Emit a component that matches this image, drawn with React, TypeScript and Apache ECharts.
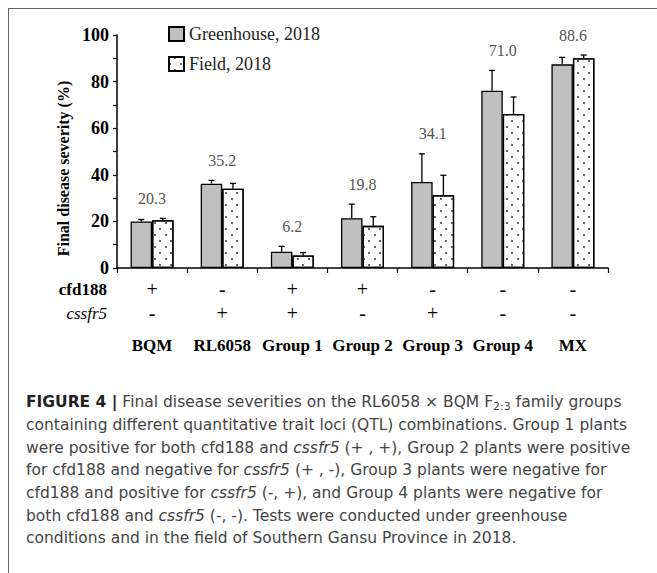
import React, { useEffect, useRef } from 'react';
import * as echarts from 'echarts';

const categories = ['BQM', 'RL6058', 'Group 1', 'Group 2', 'Group 3', 'Group 4', 'MX'];
const cfd188 = ['+', '-', '+', '+', '-', '-', '-'];
const cssfr5 = ['-', '+', '+', '-', '+', '-', '-'];
const greenhouse = [20.0, 36.2, 7.0, 21.4, 36.9, 76.1, 87.4];
const field = [20.5, 34.0, 5.4, 18.1, 31.2, 66.1, 90.0];
const greenhouseSE = [0.8, 1.4, 2.3, 6.0, 12.1, 8.7, 3.0];
const fieldSE = [0.8, 2.3, 1.2, 3.9, 8.6, 7.3, 1.4];
const meanLabels = ['20.3', '35.2', '6.2', '19.8', '34.1', '71.0', '88.6'];
const seriesNames = ['Greenhouse, 2018', 'Field, 2018'];

const SERIF = "'Liberation Serif', serif";
const SANS = "'DejaVu Sans', sans-serif";
const BAR_W = 21.5;

const caption =
  '{b|FIGURE 4 |}{t| Final disease severities on the RL6058 \u00d7 BQM F}{s|2:3}{t| family groups}\n' +
  '{t|containing different quantitative trait loci (QTL) combinations. Group 1 plants}\n' +
  '{t|were positive for both cfd188 and }{i|cssfr5}{t| (+ , +), Group 2 plants were positive}\n' +
  '{t|for cfd188 and negative for }{i|cssfr5}{t| (+ , -), Group 3 plants were negative for}\n' +
  '{t|cfd188 and positive for }{i|cssfr5}{t| (-, +), and Group 4 plants were negative for}\n' +
  '{t|both cfd188 and }{i|cssfr5}{t| (-, -). Tests were conducted under greenhouse}\n' +
  '{t|conditions and in the field of Southern Gansu Province in 2018.}';

function errSeries(vals: number[], se: number[], side: number) {
  return {
    type: 'custom',
    silent: true,
    z: 5,
    data: vals.map((v, i) => [i, v, v + se[i]]),
    encode: { x: 0, y: [1, 2] },
    renderItem: (params: any, api: any) => {
      const i = api.value(0);
      const base = api.coord([i, api.value(1)]);
      const top = api.coord([i, api.value(2)]);
      const x = base[0] + (side * BAR_W) / 2;
      return {
        type: 'group',
        children: [
          { type: 'line', shape: { x1: x, y1: base[1], x2: x, y2: top[1] }, style: { stroke: '#000', lineWidth: 1.3 } },
          { type: 'line', shape: { x1: x - 3, y1: top[1], x2: x + 3, y2: top[1] }, style: { stroke: '#000', lineWidth: 1.3 } },
        ],
      };
    },
  };
}

export default function App() {
  const ref = useRef<HTMLDivElement>(null);
  useEffect(() => {
    if (!ref.current) return;
    const chart = echarts.init(ref.current, null, { renderer: 'svg' });
    const maxTop = categories.map((_, i) =>
      Math.max(greenhouse[i] + greenhouseSE[i], field[i] + fieldSE[i])
    );
    const option: any = {
      animation: false,
      backgroundColor: '#fff',
      title: [
        {
          text: 'cfd188',
          left: 107,
          top: 280,
          padding: 0,
          textAlign: 'right',
          textStyle: { fontFamily: SERIF, fontSize: 17, fontWeight: 'bold', color: '#000', lineHeight: 18 },
        },
        {
          text: 'cssfr5',
          left: 107,
          top: 304,
          padding: 0,
          textAlign: 'right',
          textStyle: { fontFamily: SERIF, fontSize: 17, fontStyle: 'italic', fontWeight: 'normal', color: '#000', lineHeight: 18 },
        },
        {
          text: 'Final disease severity (%)',
          show: false,
        },
      ],
      grid: { left: 117, right: 49, top: 35, bottom: 305, containLabel: false },
      legend: {
        data: seriesNames,
        orient: 'vertical',
        icon: 'rect',
        left: 163,
        top: 20,
        itemWidth: 15,
        itemHeight: 14,
        itemGap: 12,
        textStyle: { fontFamily: SERIF, fontSize: 18, color: '#222' },
      },
      xAxis: {
        type: 'category',
        data: categories,
        axisLine: { lineStyle: { color: '#000', width: 1.5 } },
        axisTick: { show: true, length: 5, lineStyle: { color: '#000', width: 1.2 } },
        axisLabel: {
          interval: 0,
          margin: 9,
          formatter: (v: string, idx: number) => `{p|${cfd188[idx]}}\n{q|${cssfr5[idx]}}\n{g|${v}}`,
          rich: {
            p: { fontFamily: SERIF, fontSize: 20, lineHeight: 24, color: '#000' },
            q: { fontFamily: SERIF, fontSize: 20, lineHeight: 24, color: '#000' },
            g: { fontFamily: SERIF, fontSize: 17, fontWeight: 'bold', lineHeight: 40, color: '#000' },
          },
        },
      },
      yAxis: {
        type: 'value',
        min: 0,
        max: 100,
        interval: 10,
        name: 'Final disease severity (%)',
        nameLocation: 'middle',
        nameRotate: 90,
        nameGap: 46,
        nameTextStyle: {
          fontFamily: SERIF,
          fontSize: 16,
          fontWeight: 'bold',
          color: '#000',
          padding: [0, 0, 0, -34],
        },
        splitLine: { show: false },
        axisLine: { show: true, lineStyle: { color: '#000', width: 1.5 } },
        axisTick: { show: true, length: 4, lineStyle: { color: '#000', width: 1.2 } },
        axisLabel: {
          margin: 8,
          fontFamily: SERIF,
          fontSize: 18,
          fontWeight: 'bold',
          color: '#000',
          formatter: (v: number) => (v % 20 === 0 ? String(v) : ''),
        },
      },
      series: [
        {
          name: seriesNames[0],
          type: 'bar',
          data: greenhouse,
          barWidth: BAR_W,
          barGap: '0%',
          itemStyle: { color: '#c0c0c0', borderColor: '#000', borderWidth: 1.3 },
        },
        {
          name: seriesNames[1],
          type: 'bar',
          data: field,
          barWidth: BAR_W,
          barGap: '0%',
          itemStyle: {
            color: '#fff',
            borderColor: '#000',
            borderWidth: 1.3,
            decal: {
              symbol: 'rect',
              symbolSize: 1,
              color: '#666',
              backgroundColor: null,
              dashArrayX: [[1.2, 8.8], [0, 5, 1.2, 3.8]],
              dashArrayY: [1.2, 3.3],
              rotation: 0,
            },
          },
        },
        errSeries(greenhouse, greenhouseSE, -1),
        errSeries(field, fieldSE, 1),
        {
          type: 'scatter',
          silent: true,
          z: 6,
          symbol: 'circle',
          symbolSize: 1,
          itemStyle: { color: 'rgba(0,0,0,0)' },
          data: maxTop.map((v, i) => [i, v]),
          label: {
            show: true,
            position: 'inside',
            offset: [0, -20],
            fontFamily: SERIF,
            fontSize: 16,
            color: '#222',
            formatter: (p: any) => meanLabels[p.dataIndex],
          },
        },
      ],
      graphic: [
        { type: 'line', shape: { x1: 8, y1: 8.5, x2: 657, y2: 8.5 }, style: { stroke: '#666', lineWidth: 1 } },
        { type: 'line', shape: { x1: 8.5, y1: 8, x2: 8.5, y2: 573 }, style: { stroke: '#666', lineWidth: 1 } },
        {
          type: 'text',
          x: 26,
          y: 391,
          style: {
            text: caption,
            align: 'left',
            verticalAlign: 'top',
            rich: {
              t: { fontFamily: SANS, fontSize: 15.5, fill: '#444', lineHeight: 22.67 },
              b: { fontFamily: SANS, fontSize: 15.5, fontWeight: 'bold', fill: '#222', lineHeight: 22.67 },
              i: { fontFamily: SANS, fontSize: 15.5, fontStyle: 'italic', fill: '#444', lineHeight: 22.67 },
              s: { fontFamily: SANS, fontSize: 11, fill: '#444', lineHeight: 12, padding: [8, 0, 0, 0] },
            },
          },
        },
      ],
    };
    chart.setOption(option);
    return () => chart.dispose();
  }, []);
  return (
    <div
      ref={ref}
      style={{ position: 'fixed', left: 0, top: 0, width: 657, height: 573, background: '#fff' }}
    />
  );
}
